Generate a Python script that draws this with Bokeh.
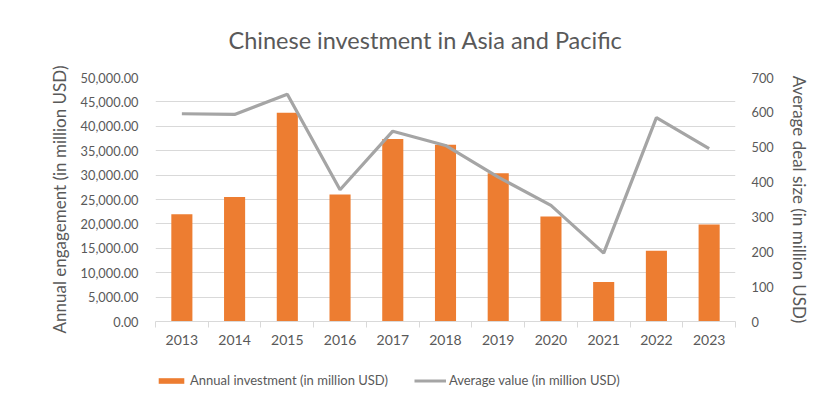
from bokeh.plotting import figure
from bokeh.layouts import column
from bokeh.models import (ColumnDataSource, Range1d, LinearAxis, FixedTicker,
                          NumeralTickFormatter, Legend, LegendItem, Title)
from bokeh.embed import file_html
from bokeh.resources import INLINE

# ---- data ----
years = [2013, 2014, 2015, 2016, 2017, 2018, 2019, 2020, 2021, 2022, 2023]
investment = [22000, 25500, 42800, 26000, 37400, 36200, 30400, 21500, 8100, 14500, 19900]
avg_value = [596, 594, 652, 378, 546, 505, 414, 333, 196, 585, 496]
left_ticks = [0, 5000, 10000, 15000, 20000, 25000, 30000, 35000, 40000, 45000, 50000]
right_ticks = [0, 100, 200, 300, 400, 500, 600, 700]

title_text = "Chinese investment in Asia and Pacific"
left_label = "Annual engagement (in million USD)"
right_label = "Average deal size (in million USD)"
bar_name = "Annual investment (in million USD)"
line_name = "Average value (in million USD)"

FONT = "Lato"
TXT = "#595959"
ORANGE = "#ED7D31"
GREY = "#A5A5A5"
GRID = "#D9D9D9"

idx = list(range(len(years)))
src = ColumnDataSource(dict(x=idx, inv=investment, avg=avg_value))

p = figure(width=812, height=350, output_backend="svg", toolbar_location=None,
           x_range=Range1d(-0.5, len(years) - 0.5), y_range=Range1d(0, 50000),
           min_border_left=155, min_border_right=76, min_border_top=76,
           min_border_bottom=29, outline_line_color=None,
           background_fill_color="white", border_fill_color="white")
p.extra_y_ranges = {"avg": Range1d(0, 700)}

t = Title(text=title_text, align="left", offset=73, text_font=FONT,
          text_font_size="23.5px", text_font_style="normal", text_color=TXT,
          standoff=47)
p.add_layout(t, "above")

bar_style = dict(fill_color=ORANGE, line_color=None)
line_style = dict(line_color=GREY, line_width=3.2)

p.vbar(x="x", top="inv", width=0.4, source=src, **bar_style)
p.line(x="x", y="avg", source=src, y_range_name="avg", **line_style)

# x axis
xa = p.xaxis[0]
xa.ticker = FixedTicker(ticks=idx, minor_ticks=[i - 0.5 for i in range(len(years) + 1)])
xa.major_label_overrides = {i: str(y) for i, y in zip(idx, years)}
xa.major_tick_line_color = None
xa.major_tick_in = 0
xa.major_tick_out = 6
xa.minor_tick_line_color = GRID
xa.minor_tick_in = 0
xa.minor_tick_out = 6
xa.axis_line_color = GRID
xa.major_label_text_font = FONT
xa.major_label_text_font_size = "14px"
xa.major_label_text_color = TXT
xa.major_label_standoff = 7

# left y axis
ya = p.yaxis[0]
ya.ticker = FixedTicker(ticks=left_ticks)
ya.formatter = NumeralTickFormatter(format="0,0.00")
ya.axis_line_color = None
ya.major_tick_line_color = None
ya.major_tick_out = 0
ya.minor_tick_line_color = None
ya.major_label_text_font = FONT
ya.major_label_text_font_size = "12.8px"
ya.major_label_text_color = TXT
ya.major_label_standoff = 17
ya.axis_label = left_label
ya.axis_label_text_font = FONT
ya.axis_label_text_font_size = "17px"
ya.axis_label_text_font_style = "normal"
ya.axis_label_text_color = TXT
ya.axis_label_standoff = 8

# right y axis
ra = LinearAxis(y_range_name="avg", ticker=FixedTicker(ticks=right_ticks))
ra.axis_line_color = None
ra.major_tick_line_color = None
ra.major_tick_out = 0
ra.minor_tick_line_color = None
ra.major_label_text_font = FONT
ra.major_label_text_font_size = "12.8px"
ra.major_label_text_color = TXT
ra.major_label_standoff = 16
ra.axis_label = right_label
ra.axis_label_text_font = FONT
ra.axis_label_text_font_size = "17px"
ra.axis_label_text_font_style = "normal"
ra.axis_label_text_color = TXT
ra.axis_label_standoff = 12
p.add_layout(ra, "right")

p.xgrid.grid_line_color = None
p.ygrid.grid_line_color = GRID
p.ygrid.grid_line_width = 1.2

# ---- legend strip below the chart (swatch renderers carry no data) ----
lg = figure(width=812, height=46, output_backend="svg", toolbar_location=None,
            x_axis_location=None, y_axis_location=None,
            x_range=Range1d(0, 1), y_range=Range1d(0, 1),
            min_border=0, outline_line_color=None,
            background_fill_color="white", border_fill_color="white")
lg.grid.visible = False
swatch = ColumnDataSource(dict(x=[float("nan")], inv=[float("nan")], avg=[float("nan")]))
lb = lg.vbar(x="x", top="inv", width=0.4, source=swatch, **bar_style)
ll = lg.line(x="x", y="avg", source=swatch, **line_style)

legend = Legend(items=[LegendItem(label=bar_name, renderers=[lb]),
                       LegendItem(label=line_name, renderers=[ll])],
                orientation="horizontal", location=(0, 8),
                padding=0, margin=0, spacing=26, label_standoff=3,
                glyph_width=32, glyph_height=7, label_height=16,
                label_text_font=FONT, label_text_font_size="13px",
                label_text_color=TXT, border_line_color=None,
                background_fill_alpha=0)
lg.add_layout(legend, "center")

layout = column(p, lg, spacing=0)
open("out.html", "w").write(file_html(layout, INLINE))
